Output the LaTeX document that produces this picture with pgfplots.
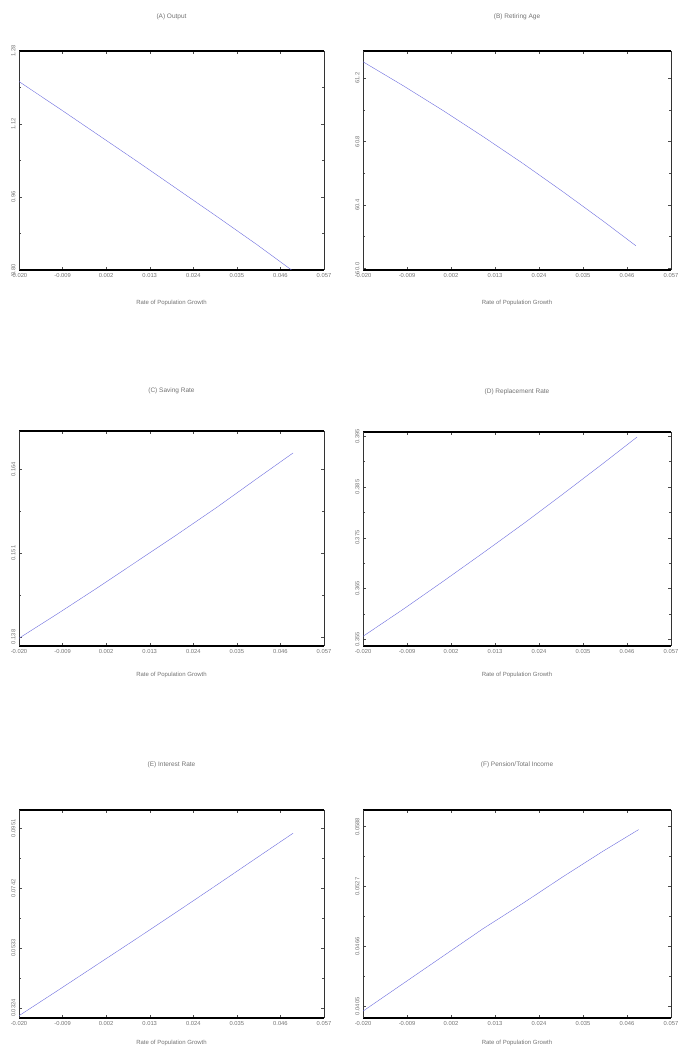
\documentclass[border=0pt]{standalone}
\usepackage{fontspec}
\setmainfont{Liberation Sans}
\usepackage{pgfplots}
\pgfplotsset{compat=1.18}

\definecolor{lineblue}{RGB}{108,108,222}
\definecolor{labelgray}{RGB}{115,115,115}

\pgfplotsset{
  panel/.style={
    scale only axis,
    anchor=south west,
    xmin=-0.020, xmax=0.057,
    xtick={-0.020,-0.009,0.002,0.013,0.024,0.035,0.046,0.057},
    xticklabels={-0.020,-0.009,0.002,0.013,0.024,0.035,0.046,0.057},
    scaled ticks=false,
    separate axis lines,
    x axis line style={line width=1.6pt, black},
    y axis line style={line width=0.8pt, black!80},
    tick style={black!70, line width=0.4pt},
    major tick length=3pt, minor tick length=1.8pt,
    minor y tick num=1,
    tick align=inside,
    ticklabel style={font=\fontsize{5.8}{6.5}\selectfont, text=labelgray},
    yticklabel style={rotate=90, anchor=south},
    xlabel={Rate of Population Growth},
    xlabel style={font=\fontsize{6}{7}\selectfont, text=labelgray},
    title style={font=\fontsize{6.5}{7}\selectfont, text=labelgray},
    /pgf/number format/assume math mode=true,
    cycle list={{lineblue, line width=0.65pt, mark=none}},
  }
}

\begin{document}
\begin{tikzpicture}
\useasboundingbox (0pt,0pt) rectangle (682pt,1062pt);

% (A) Output
\begin{axis}[panel, at={(19pt,792pt)}, width=305pt, height=219pt,
  ymin=0.80, ymax=1.28, ytick={0.80,0.96,1.12,1.28},
  yticklabels={0.80,0.96,1.12,1.28},
  title={(A) Output}, title style={yshift=22pt}, xlabel style={yshift=-16pt}]
\addplot coordinates {(-0.020,1.213) (-0.010,1.155) (0.000,1.096) (0.010,1.037)
  (0.020,0.977) (0.030,0.917) (0.040,0.856) (0.0488,0.800)};
\end{axis}

% (B) Retiring Age
\begin{axis}[panel, at={(363pt,792pt)}, width=308pt, height=219pt,
  ymin=59.99, ymax=61.37, ytick={60.0,60.4,60.8,61.2},
  yticklabels={60.0,60.4,60.8,61.2},
  title={(B) Retiring Age}, title style={yshift=22pt}, xlabel style={yshift=-16pt}]
\addplot coordinates {(-0.020,61.302) (-0.010,61.152) (0.000,60.995) (0.010,60.831)
  (0.020,60.661) (0.030,60.483) (0.040,60.299) (0.0482,60.143)};
\end{axis}

% (C) Saving Rate
\begin{axis}[panel, at={(19pt,416pt)}, width=305pt, height=215pt,
  ymin=0.1366, ymax=0.1699, ytick={0.138,0.151,0.164},
  yticklabels={0.138,0.151,0.164},
  title={(C) Saving Rate}, title style={yshift=28pt}, xlabel style={yshift=-12pt}]
\addplot coordinates {(-0.020,0.1378) (-0.010,0.1417) (0.000,0.1457) (0.010,0.1498)
  (0.020,0.1539) (0.030,0.1581) (0.040,0.1625) (0.0492,0.1665)};
\end{axis}

% (D) Replacement Rate
\begin{axis}[panel, at={(363pt,416pt)}, width=308pt, height=214pt,
  ymin=0.3537, ymax=0.3958, ytick={0.355,0.365,0.375,0.385,0.395},
  yticklabels={0.355,0.365,0.375,0.385,0.395},
  title={(D) Replacement Rate}, title style={yshift=28pt}, xlabel style={yshift=-12pt}]
\addplot coordinates {(-0.020,0.3556) (-0.010,0.3609) (0.000,0.3664) (0.010,0.3720)
  (0.020,0.3777) (0.030,0.3836) (0.040,0.3896) (0.0485,0.3948)};
\end{axis}

% (E) Interest Rate
\begin{axis}[panel, at={(19pt,44pt)}, width=305pt, height=208pt,
  ymin=0.0289, ymax=0.1015, ytick={0.0324,0.0533,0.0742,0.0951},
  yticklabels={0.0324,0.0533,0.0742,0.0951},
  title={(E) Interest Rate}, title style={yshift=33pt}, xlabel style={yshift=-8pt}]
\addplot coordinates {(-0.020,0.0297) (-0.010,0.0387) (0.000,0.0478) (0.010,0.0569)
  (0.020,0.0661) (0.030,0.0754) (0.040,0.0848) (0.0492,0.0934)};
\end{axis}

% (F) Pension/Total Income
\begin{axis}[panel, at={(363pt,44pt)}, width=308pt, height=208pt,
  ymin=0.0393, ymax=0.0605, ytick={0.0405,0.0466,0.0527,0.0588},
  yticklabels={0.0405,0.0466,0.0527,0.0588},
  title={(F) Pension/Total Income}, title style={yshift=33pt}, xlabel style={yshift=-8pt}]
\addplot coordinates {(-0.020,0.0400) (-0.010,0.0428) (0.000,0.0456) (0.010,0.0484)
  (0.020,0.0510) (0.030,0.0537) (0.040,0.0563) (0.0489,0.0585)};
\end{axis}
\end{tikzpicture}
\end{document}
